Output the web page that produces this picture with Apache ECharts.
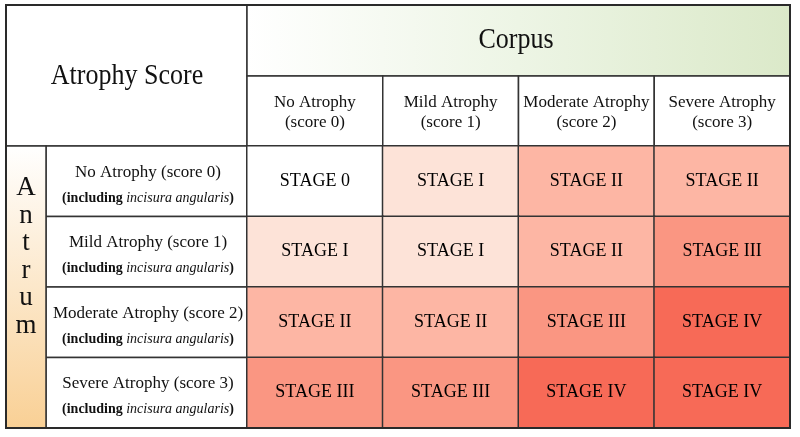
<!DOCTYPE html>
<html><head><meta charset="utf-8">
<script src="https://cdn.jsdelivr.net/npm/echarts@6/dist/echarts.min.js"></script>
<style>html,body{margin:0;padding:0;background:#fff}#c{width:800px;height:437px}</style>
</head><body><div id="c"></div>
<script>
// ---- data ----
const corpusCategories = ['No Atrophy\n(score 0)', 'Mild Atrophy\n(score 1)', 'Moderate Atrophy\n(score 2)', 'Severe Atrophy\n(score 3)'];
const antrumCategories = ['No Atrophy (score 0)', 'Mild Atrophy (score 1)', 'Moderate Atrophy (score 2)', 'Severe Atrophy (score 3)'];
const antrumNote = 'incisura angularis';
const stageLabels = ['STAGE 0', 'STAGE I', 'STAGE II', 'STAGE III', 'STAGE IV'];
const stageRow0 = [0, 1, 2, 2];
const stageRow1 = [1, 1, 2, 3];
const stageRow2 = [2, 2, 3, 4];
const stageRow3 = [3, 3, 4, 4];
const stageColors = ['#ffffff', '#fde3d8', '#fdb6a4', '#fa9682', '#f76a57'];

// ---- layout ----
const FONT = '"Liberation Serif", "Times New Roman", serif';
const LINE = '#333333';
const G = { left: 247, top: 146, width: 543, height: 282 };
const colW = G.width / 4, rowH = G.height / 4;

const rows = [stageRow0, stageRow1, stageRow2, stageRow3];
const heatData = [];
rows.forEach((r, yi) => r.forEach((v, xi) => heatData.push([xi, yi, v])));

const graphics = [];
graphics.push({ type: 'rect', z: -1, shape: { x: 6, y: 5, width: G.left - 6, height: G.top - 5 },
  style: { fill: '#fff', stroke: LINE, lineWidth: 1.5 } });
graphics.push({ type: 'rect', z: -1, shape: { x: G.left, y: 5, width: G.width, height: 71 },
  style: { fill: new echarts.graphic.LinearGradient(0, 0, 1, 0, [
    { offset: 0, color: '#ffffff' }, { offset: 0.5, color: '#edf5e5' }, { offset: 1, color: '#dbe9c9' }]),
    stroke: LINE, lineWidth: 1.5 } });
for (let i = 0; i < 4; i++) {
  graphics.push({ type: 'rect', z: -1, shape: { x: G.left + i * colW, y: 76, width: colW, height: G.top - 76 },
    style: { fill: '#fff', stroke: LINE, lineWidth: 1.5 } });
  graphics.push({ type: 'rect', z: -1, shape: { x: 46, y: G.top + i * rowH, width: G.left - 46, height: rowH },
    style: { fill: '#fff', stroke: LINE, lineWidth: 1.5 } });
}
graphics.push({ type: 'rect', z: -1, shape: { x: 6, y: G.top, width: 40, height: G.height },
  style: { fill: new echarts.graphic.LinearGradient(0, 0, 0, 1, [
    { offset: 0, color: '#ffffff' }, { offset: 1, color: '#f9d095' }]),
    stroke: LINE, lineWidth: 1.5 } });
graphics.push({ type: 'text', z: 5, x: 127, y: 76, scaleY: 1.15,
  style: { text: 'Atrophy Score', font: '26px ' + FONT, fill: '#111', align: 'center', verticalAlign: 'middle' } });
graphics.push({ type: 'text', z: 5, x: 516, y: 40, scaleY: 1.15,
  style: { text: 'Corpus', font: '26px ' + FONT, fill: '#111', align: 'center', verticalAlign: 'middle' } });
graphics.push({ type: 'text', z: 5, x: 26, y: 257,
  style: { text: 'A\nn\nt\nr\nu\nm', font: '27px ' + FONT, lineHeight: 27.5, fill: '#111', align: 'center', verticalAlign: 'middle' } });
graphics.push({ type: 'rect', z: 100, shape: { x: 6, y: 5, width: G.left + G.width - 6, height: G.top + G.height - 5 },
  style: { fill: 'none', stroke: '#2a2a2a', lineWidth: 2 } });

const chart = echarts.init(document.getElementById('c'), null, { renderer: 'canvas' });
chart.setOption({
  animation: false,
  backgroundColor: '#ffffff',
  grid: G,
  graphic: graphics,
  xAxis: {
    type: 'category', data: corpusCategories, position: 'top', z: 10,
    axisLine: { show: false }, axisTick: { show: false }, splitArea: { show: false },
    axisLabel: { margin: 13, fontFamily: FONT, fontSize: 17, lineHeight: 20, color: '#111', interval: 0 }
  },
  yAxis: {
    type: 'category', data: antrumCategories, inverse: true, z: 10,
    axisLine: { show: false }, axisTick: { show: false },
    axisLabel: {
      margin: 99, align: 'center', interval: 0, padding: [6, 0, 0, 0],
      formatter: v => '{a|' + v + '}\n{b|(including }{c|' + antrumNote + '}{b|)}',
      rich: {
        a: { fontFamily: FONT, fontSize: 17, lineHeight: 28, color: '#111', align: 'center' },
        b: { fontFamily: FONT, fontSize: 14, lineHeight: 24, fontWeight: 'bold', color: '#111' },
        c: { fontFamily: FONT, fontSize: 14, lineHeight: 24, fontStyle: 'italic', color: '#111' }
      }
    }
  },
  visualMap: {
    type: 'piecewise', show: false, dimension: 2,
    pieces: stageColors.map((c, i) => ({ value: i, color: c }))
  },
  series: [{
    type: 'heatmap', data: heatData,
    itemStyle: { borderColor: LINE, borderWidth: 1.5 },
    label: { show: true, formatter: p => stageLabels[p.value[2]], fontFamily: FONT, fontSize: 18, color: '#000' },
    emphasis: { disabled: true }
  }]
});
</script></body></html>
